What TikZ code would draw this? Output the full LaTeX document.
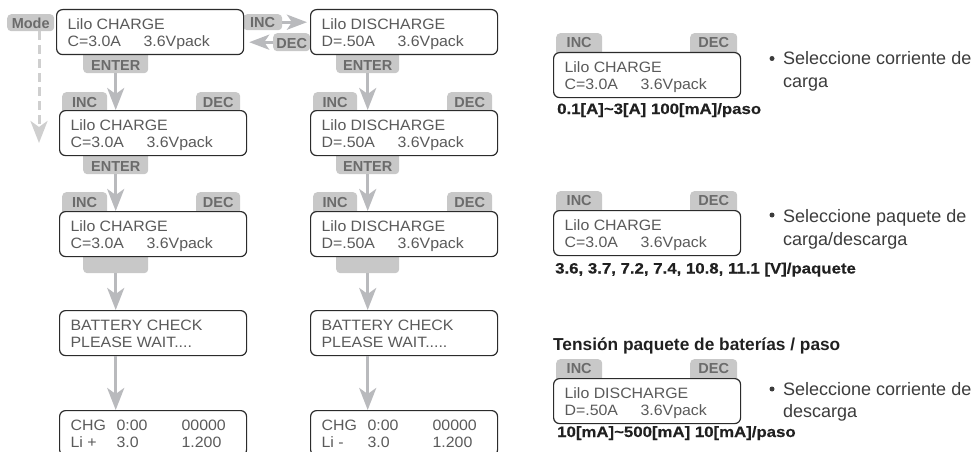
\documentclass[tikz,border=0pt]{standalone}
\usepackage{fontspec}
\setmainfont{Liberation Sans}
\newfontfamily\widebold[FakeStretch=1.12,FakeBold=0.4]{Liberation Sans Bold}
\newfontfamily\lcdsans[FakeStretch=1.06]{Liberation Sans}
\usetikzlibrary{arrows.meta}

\definecolor{tabfill}{HTML}{C8C8C8}
\definecolor{tabtext}{HTML}{6B6B6B}
\definecolor{flowgray}{HTML}{B9BABD}
\definecolor{modegray}{HTML}{CFCFCF}
\definecolor{frame}{HTML}{2B2B2B}
\definecolor{lcdink}{HTML}{5A5A5A}
\definecolor{notes}{HTML}{3C3C3C}
\definecolor{range}{HTML}{202020}

% two-line display contents
\newcommand\lcd[2]{\parbox[c][45pt][t]{165pt}{\rule{0pt}{20pt}#1\\#2}}
\newcommand\pair[2]{\makebox[76pt][l]{#1}#2}
\newcommand\cols[3]{\makebox[46pt][l]{#1}\makebox[65pt][l]{#2}#3}

\tikzset{
  lcdbox/.style={draw=frame, line width=1.2pt, rounded corners=6pt, fill=white,
    inner xsep=11pt, inner ysep=0pt, anchor=north west, text=lcdink,
    font=\lcdsans\fontsize{15}{16.5}\selectfont},
  tabkey/.style={fill=tabfill, rounded corners=4pt, text=tabtext,
    font=\fontsize{14.5}{14.5}\selectfont\bfseries,
    inner xsep=0pt, inner ysep=0pt, anchor=north west},
  uptab/.style={tabkey, text height=15pt, text depth=9pt},
  downtab/.style={tabkey, text height=22pt, text depth=3pt},
  paneltab/.style={tabkey, text height=14pt, text depth=11pt},
  flow/.style={draw=flowgray, line width=3pt,
    -{Stealth[length=22pt,width=17pt,inset=6pt]}},
  sideflow/.style={draw=flowgray, line width=3pt,
    -{Stealth[length=20pt,width=15pt,inset=5pt]}},
  modeflow/.style={draw=modegray, line width=3pt, dash pattern=on 9pt off 5pt,
    -{Stealth[length=22pt,width=17pt,inset=6pt]}},
  rangetxt/.style={anchor=base west, inner sep=0pt, text=range,
    font=\widebold\fontsize{15}{15}\selectfont},
  titletxt/.style={anchor=base west, inner sep=0pt, text=range,
    font=\fontsize{17.3}{17.3}\selectfont\bfseries},
  notetxt/.style={anchor=base west, inner sep=0pt, text=notes,
    font=\fontsize{18}{18}\selectfont},
  dot/.style={circle, fill=notes, inner sep=0pt, minimum size=5pt},
}

\begin{document}
\begin{tikzpicture}[x=1pt, y=-1pt]
\path[clip, use as bounding box] (0,0) rectangle (977,452);

% ---------- key tabs (drawn first, the displays cover their inner edges)
\node[tabkey, minimum width=47pt, text height=14pt, text depth=3pt] (modeTab) at (7,14) {Mode};
\node[tabkey, minimum width=39pt, text height=13.5pt, text depth=2.5pt] (incTop) at (243,14) {INC};
\node[tabkey, minimum width=37pt, text height=15.5pt, text depth=2.5pt] (decTop) at (273,33) {DEC};

% charge column
\node[downtab, minimum width=65pt] (entL1) at (83,48) {ENTER};
\node[uptab, minimum width=45pt] (incL2) at (62,92) {INC};
\node[uptab, minimum width=44pt] (decL2) at (196,92) {DEC};
\node[downtab, minimum width=65pt] (entL2) at (83,149) {ENTER};
\node[uptab, minimum width=45pt] (incL3) at (62,192) {INC};
\node[uptab, minimum width=44pt] (decL3) at (196,192) {DEC};
\node[tabkey, minimum width=65pt, minimum height=23pt] (blankL) at (83,250) {};

% discharge column
\node[downtab, minimum width=63pt] (entR1) at (336,48) {ENTER};
\node[uptab, minimum width=44pt] (incR2) at (313,92) {INC};
\node[uptab, minimum width=45pt] (decR2) at (447,92) {DEC};
\node[downtab, minimum width=63pt] (entR2) at (336,149) {ENTER};
\node[uptab, minimum width=44pt] (incR3) at (313,192) {INC};
\node[uptab, minimum width=45pt] (decR3) at (447,192) {DEC};
\node[tabkey, minimum width=63pt, minimum height=23pt] (blankR) at (336,250) {};

% side panel
\node[paneltab, minimum width=46pt] (incP1) at (556,33) {INC};
\node[paneltab, minimum width=47pt] (decP1) at (690,33) {DEC};
\node[paneltab, minimum width=46pt] (incP2) at (556,191) {INC};
\node[paneltab, minimum width=47pt] (decP2) at (690,191) {DEC};
\node[paneltab, minimum width=46pt] (incP3) at (556,359) {INC};
\node[paneltab, minimum width=47pt] (decP3) at (690,359) {DEC};

% ---------- displays
\node[lcdbox] (boxL1) at (56,9)   {\lcd{Lilo CHARGE}{\pair{C=3.0A}{3.6Vpack}}};
\node[lcdbox] (boxL2) at (59,110) {\lcd{Lilo CHARGE}{\pair{C=3.0A}{3.6Vpack}}};
\node[lcdbox] (boxL3) at (59,211) {\lcd{Lilo CHARGE}{\pair{C=3.0A}{3.6Vpack}}};
\node[lcdbox] (boxL4) at (59,310) {\lcd{BATTERY CHECK}{PLEASE WAIT....}};
\node[lcdbox] (boxL5) at (59,410) {\lcd{\cols{CHG}{0:00}{00000}}{\cols{Li +}{3.0}{1.200}}};

\node[lcdbox] (boxR1) at (310,9)   {\lcd{Lilo DISCHARGE}{\pair{D=.50A}{3.6Vpack}}};
\node[lcdbox] (boxR2) at (310,110) {\lcd{Lilo DISCHARGE}{\pair{D=.50A}{3.6Vpack}}};
\node[lcdbox] (boxR3) at (310,211) {\lcd{Lilo DISCHARGE}{\pair{D=.50A}{3.6Vpack}}};
\node[lcdbox] (boxR4) at (310,310) {\lcd{BATTERY CHECK}{PLEASE WAIT.....}};
\node[lcdbox] (boxR5) at (310,410) {\lcd{\cols{CHG}{0:00}{00000}}{\cols{Li -}{3.0}{1.200}}};

\node[lcdbox] (boxP1) at (553,52)  {\lcd{Lilo CHARGE}{\pair{C=3.0A}{3.6Vpack}}};
\node[lcdbox] (boxP2) at (553,210) {\lcd{Lilo CHARGE}{\pair{C=3.0A}{3.6Vpack}}};
\node[lcdbox] (boxP3) at (553,378) {\lcd{Lilo DISCHARGE}{\pair{D=.50A}{3.6Vpack}}};

% ---------- flow arrows
\coordinate (modeEnd) at (39,143);
\draw[modeflow] (modeTab.south -| modeEnd) -- (modeEnd);
\draw[sideflow, shorten >=3pt] (incTop.east) -- (incTop.east -| boxR1.west);
\draw[sideflow, shorten >=5pt] (decTop.west) -- (decTop.west -| boxL1.east);

\draw[flow] (entL1.south) -- (entL1.south |- boxL2.north);
\draw[flow] (entL2.south) -- (entL2.south |- boxL3.north);
\draw[flow] (blankL.south) -- (blankL.south |- boxL4.north);
\draw[flow] (blankL.south |- boxL4.south) -- (blankL.south |- boxL5.north);

\draw[flow] (entR1.south) -- (entR1.south |- boxR2.north);
\draw[flow] (entR2.south) -- (entR2.south |- boxR3.north);
\draw[flow] (blankR.south) -- (blankR.south |- boxR4.north);
\draw[flow] (blankR.south |- boxR4.south) -- (blankR.south |- boxR5.north);

% ---------- side panel texts
\node[rangetxt] (rngP1) at (557,114) {0.1[A]\textasciitilde3[A] 100[mA]/paso};
\node[rangetxt] (rngP2) at (555,273.5) {3.6, 3.7, 7.2, 7.4, 10.8, 11.1 [V]/paquete};
\node[titletxt] (ttlP3) at (553,350) {Tensión paquete de baterías / paso};
\node[rangetxt] (rngP3) at (557,437) {10[mA]\textasciitilde500[mA] 10[mA]/paso};

\node[dot] (dot1) at (772,58.5) {};
\node[notetxt] (note1a) at (783,64) {Seleccione corriente de};
\node[notetxt] (note1b) at (783,87.5) {carga};
\node[dot] (dot2) at (772,215) {};
\node[notetxt] (note2a) at (783,222) {Seleccione paquete de};
\node[notetxt] (note2b) at (783,245) {carga/descarga};
\node[dot] (dot3) at (772,389) {};
\node[notetxt] (note3a) at (783,395) {Seleccione corriente de};
\node[notetxt] (note3b) at (783,417.5) {descarga};
\end{tikzpicture}
\end{document}
